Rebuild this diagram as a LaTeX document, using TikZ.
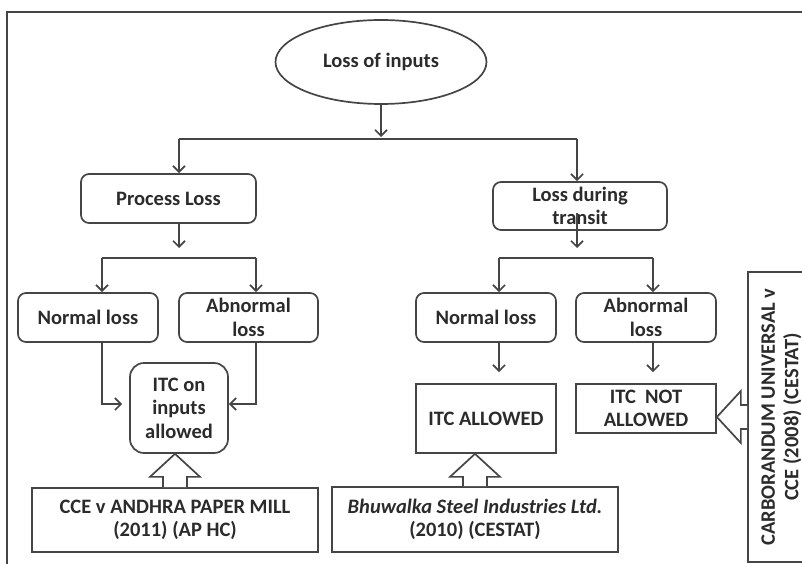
\documentclass[tikz,border=0pt]{standalone}
\usepackage{fontspec}
\setmainfont{Carlito}
\usepackage{xcolor}
\usetikzlibrary{arrows.meta,calc,positioning,shapes.geometric}
\definecolor{ink}{HTML}{454545}
\definecolor{txt}{HTML}{2B2B2B}
\tikzset{
  every node/.style={text=txt, font=\bfseries\fontsize{20.5}{23.5}\selectfont},
  rbox/.style={draw=ink, line width=1.7pt, rounded corners=8pt, align=center, inner sep=0pt},
  sbox/.style={draw=ink, line width=1.7pt, align=center, inner sep=0pt},
  link/.style={draw=ink, line width=1.7pt},
  arr/.style={link, -{Straight Barb[length=6pt,width=12pt,line width=1.7pt]}},
  bigarrow/.style={draw=ink, line width=1.7pt, fill=white, line join=miter},
}

\begin{document}
\begin{tikzpicture}[x=1pt, y=-1pt]
\useasboundingbox (0,0) rectangle (802,564);
\clip (0,0) rectangle (802,564);
% Frame
\draw[link] (7,570) -- (7,12) -- (810,12);
% Top
\node[draw=ink, line width=1.7pt, ellipse, minimum width=211, minimum height=84, inner sep=0pt] (loss) at (381,62) {Loss of inputs};
\node[rbox, minimum width=175, minimum height=49] (proc) at (168.5,198.5) {Process Loss};
\node[rbox, minimum width=174, minimum height=48] (transit) at (580,206) {Loss during\\transit};
% Second level boxes
\node[rbox, minimum width=140, minimum height=49] (normA) at (88,317.5) {Normal loss};
\node[rbox, minimum width=139, minimum height=49] (abnA) at (248.5,317.5) {Abnormal\\loss};
\node[rbox, minimum width=140, minimum height=49] (normB) at (486,317.5) {Normal loss};
\node[rbox, minimum width=140, minimum height=49] (abnB) at (646,317.5) {Abnormal\\loss};
% Outcomes
\node[rbox, rounded corners=14pt, minimum width=98, minimum height=90] (itcin) at (179,408) {ITC on\\inputs\\allowed};
\node[sbox, minimum width=140, minimum height=69] (itcok) at (486,418.5) {ITC ALLOWED};
\node[sbox, minimum width=140, minimum height=49] (itcno) at (646,408.5) {ITC\ \ NOT\\ALLOWED};
% Cases
\node[sbox, minimum width=286, minimum height=64] (andhra) at (175,520) {CCE v ANDHRA PAPER MILL\\(2011) (AP HC)};
\node[sbox, minimum width=286, minimum height=65] (bhuw) at (475,519.5) {\textit{Bhuwalka Steel Industries Ltd.}\\(2010) (CESTAT)};
\node[sbox, rotate=90, minimum width=290, minimum height=67] (carbo) at (781.5,417) {CARBORANDUM UNIVERSAL v\\CCE (2008) (CESTAT)};
% Junctions
\coordinate (j0) at (381,137);
\coordinate (j0l) at (179,139);
\coordinate (j0r) at (577,139);
\coordinate (j1l) at (102,258);
\coordinate (j1r) at (256,258);
\coordinate (j2l) at (499,258);
\coordinate (j2r) at (653,258);
% First split
\draw[arr] (loss.south) -- (j0);
\draw[link] (j0l) -- (j0r);
\draw[arr] (j0l) -- (j0l |- proc.north);
\draw[arr] (j0r) -- (j0r |- transit.north);
% Process loss split
\draw[arr] (j0l |- proc.south) -- ($(j0l |- j1l)+(0,-10)$);
\draw[link] (j1l) -- (j1r);
\draw[arr] (j1l) -- (j1l |- normA.north);
\draw[arr] (j1r) -- (j1r |- abnA.north);
% Transit split
\draw[arr] ($(j0r |- transit.center)+(0,7)$) -- ($(j0r |- j2l)+(0,-10)$);
\draw[link] (j2l) -- (j2r);
\draw[arr] (j2l) -- (j2l |- normB.north);
\draw[arr] (j2r) -- (j2r |- abnB.north);
% Into outcomes
\draw[arr, shorten >=7pt] (j1l |- normA.south) |- ([yshift=4pt]itcin.west);
\draw[arr] (j1r |- abnA.south) |- ([yshift=4pt]itcin.east);
\draw[arr] (j2l |- normB.south) -- ($(j2l |- itcok.north)+(0,-11)$);
\draw[arr] (j2r |- abnB.south) -- ($(j2r |- itcno.north)+(0,-11)$);
% Block arrows from the cases
\coordinate (tipA) at (andhra.north |- itcin.south);
\coordinate (tipB) at (bhuw.north |- itcok.south);
\coordinate (tipC) at (itcno.east |- carbo.north);
\draw[bigarrow] ($(andhra.north)+(-12,0)$) -- ($(tipA)+(-12,23)$) -- ($(tipA)+(-25,23)$) -- (tipA)
  -- ($(tipA)+(25,23)$) -- ($(tipA)+(12,23)$) -- ($(andhra.north)+(12,0)$);
\draw[bigarrow] ($(bhuw.north)+(-12,0)$) -- ($(tipB)+(-12,23)$) -- ($(tipB)+(-25,23)$) -- (tipB)
  -- ($(tipB)+(25,23)$) -- ($(tipB)+(12,23)$) -- ($(bhuw.north)+(12,0)$);
\draw[bigarrow] ($(carbo.north)+(0,-12)$) -- ($(tipC)+(24,-12)$) -- ($(tipC)+(24,-26)$) -- (tipC)
  -- ($(tipC)+(24,26)$) -- ($(tipC)+(24,12)$) -- ($(carbo.north)+(0,12)$);
\end{tikzpicture}
\end{document}
